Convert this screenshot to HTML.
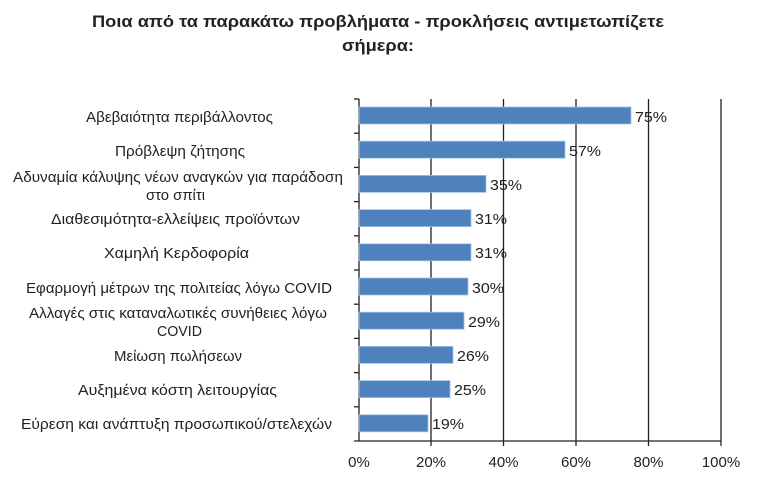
<!DOCTYPE html>
<html><head><meta charset="utf-8"><style>
body{margin:0;background:#fff}
text{font-family:"Liberation Sans",sans-serif;fill:#222}
</style></head><body>
<svg width="773" height="499" xmlns="http://www.w3.org/2000/svg">
<text x="378" y="27" text-anchor="middle" font-size="17" font-weight="bold" textLength="572" lengthAdjust="spacingAndGlyphs">Ποια από τα παρακάτω προβλήματα - προκλήσεις αντιμετωπίζετε</text>
<text x="378" y="51" text-anchor="middle" font-size="17" font-weight="bold" textLength="72" lengthAdjust="spacingAndGlyphs">σήμερα:</text>
<g stroke="#222" stroke-width="1.3">
<line x1="431" y1="99" x2="431" y2="441"/><line x1="503.5" y1="99" x2="503.5" y2="441"/>
<line x1="576" y1="99" x2="576" y2="441"/><line x1="648.5" y1="99" x2="648.5" y2="441"/>
<line x1="721" y1="99" x2="721" y2="441"/>
<line x1="359" y1="99" x2="359" y2="441"/><line x1="354" y1="441" x2="721" y2="441"/>
<line x1="354" y1="99" x2="359" y2="99"/><line x1="354" y1="133.2" x2="359" y2="133.2"/>
<line x1="354" y1="167.4" x2="359" y2="167.4"/><line x1="354" y1="201.6" x2="359" y2="201.6"/>
<line x1="354" y1="235.8" x2="359" y2="235.8"/><line x1="354" y1="270" x2="359" y2="270"/>
<line x1="354" y1="304.2" x2="359" y2="304.2"/><line x1="354" y1="338.4" x2="359" y2="338.4"/>
<line x1="354" y1="372.6" x2="359" y2="372.6"/><line x1="354" y1="406.8" x2="359" y2="406.8"/>
<line x1="431" y1="441" x2="431" y2="446"/><line x1="503.5" y1="441" x2="503.5" y2="446"/>
<line x1="576" y1="441" x2="576" y2="446"/><line x1="648.5" y1="441" x2="648.5" y2="446"/><line x1="721" y1="441" x2="721" y2="446"/>
</g>
<g fill="#4f81bd" stroke="#9dc3e6" stroke-width="0.8">
<rect x="359" y="107" width="272" height="17"/>
<rect x="359" y="141.2" width="206" height="17"/>
<rect x="359" y="175.4" width="127" height="17"/>
<rect x="359" y="209.6" width="112" height="17"/>
<rect x="359" y="243.8" width="112" height="17"/>
<rect x="359" y="278" width="109" height="17"/>
<rect x="359" y="312.2" width="105" height="17"/>
<rect x="359" y="346.4" width="94" height="17"/>
<rect x="359" y="380.6" width="91" height="17"/>
<rect x="359" y="414.8" width="69" height="17"/>
</g>
<g font-size="15">
<text x="635" y="122" textLength="32" lengthAdjust="spacingAndGlyphs">75%</text><text x="569" y="156" textLength="32" lengthAdjust="spacingAndGlyphs">57%</text><text x="490" y="190" textLength="32" lengthAdjust="spacingAndGlyphs">35%</text>
<text x="475" y="224" textLength="32" lengthAdjust="spacingAndGlyphs">31%</text><text x="475" y="258" textLength="32" lengthAdjust="spacingAndGlyphs">31%</text><text x="472" y="293" textLength="32" lengthAdjust="spacingAndGlyphs">30%</text>
<text x="468" y="327" textLength="32" lengthAdjust="spacingAndGlyphs">29%</text><text x="457" y="361" textLength="32" lengthAdjust="spacingAndGlyphs">26%</text><text x="454" y="395" textLength="32" lengthAdjust="spacingAndGlyphs">25%</text><text x="432" y="429" textLength="32" lengthAdjust="spacingAndGlyphs">19%</text>
</g>
<g font-size="15">
<text x="86" y="122" textLength="187" lengthAdjust="spacingAndGlyphs">Αβεβαιότητα περιβάλλοντος</text>
<text x="115" y="156" textLength="130" lengthAdjust="spacingAndGlyphs">Πρόβλεψη ζήτησης</text>
<text x="13" y="182" textLength="330" lengthAdjust="spacingAndGlyphs">Αδυναμία κάλυψης νέων αναγκών για παράδοση</text>
<text x="146" y="200" textLength="59" lengthAdjust="spacingAndGlyphs">στο σπίτι</text>
<text x="51" y="224" textLength="249" lengthAdjust="spacingAndGlyphs">Διαθεσιμότητα-ελλείψεις προϊόντων</text>
<text x="104" y="258" textLength="145" lengthAdjust="spacingAndGlyphs">Χαμηλή Κερδοφορία</text>
<text x="26" y="293" textLength="306" lengthAdjust="spacingAndGlyphs">Εφαρμογή μέτρων της πολιτείας λόγω COVID</text>
<text x="29" y="318" textLength="298" lengthAdjust="spacingAndGlyphs">Αλλαγές στις καταναλωτικές συνήθειες λόγω</text>
<text x="157" y="336" textLength="45" lengthAdjust="spacingAndGlyphs">COVID</text>
<text x="114" y="361" textLength="128" lengthAdjust="spacingAndGlyphs">Μείωση πωλήσεων</text>
<text x="78" y="395" textLength="199" lengthAdjust="spacingAndGlyphs">Αυξημένα κόστη λειτουργίας</text>
<text x="21" y="429" textLength="311" lengthAdjust="spacingAndGlyphs">Εύρεση και ανάπτυξη προσωπικού/στελεχών</text>
</g>
<g font-size="15" text-anchor="middle">
<text x="359" y="467">0%</text><text x="431" y="467">20%</text><text x="503.5" y="467">40%</text>
<text x="576" y="467">60%</text><text x="648.5" y="467">80%</text><text x="721" y="467">100%</text>
</g>
</svg>
</body></html>
